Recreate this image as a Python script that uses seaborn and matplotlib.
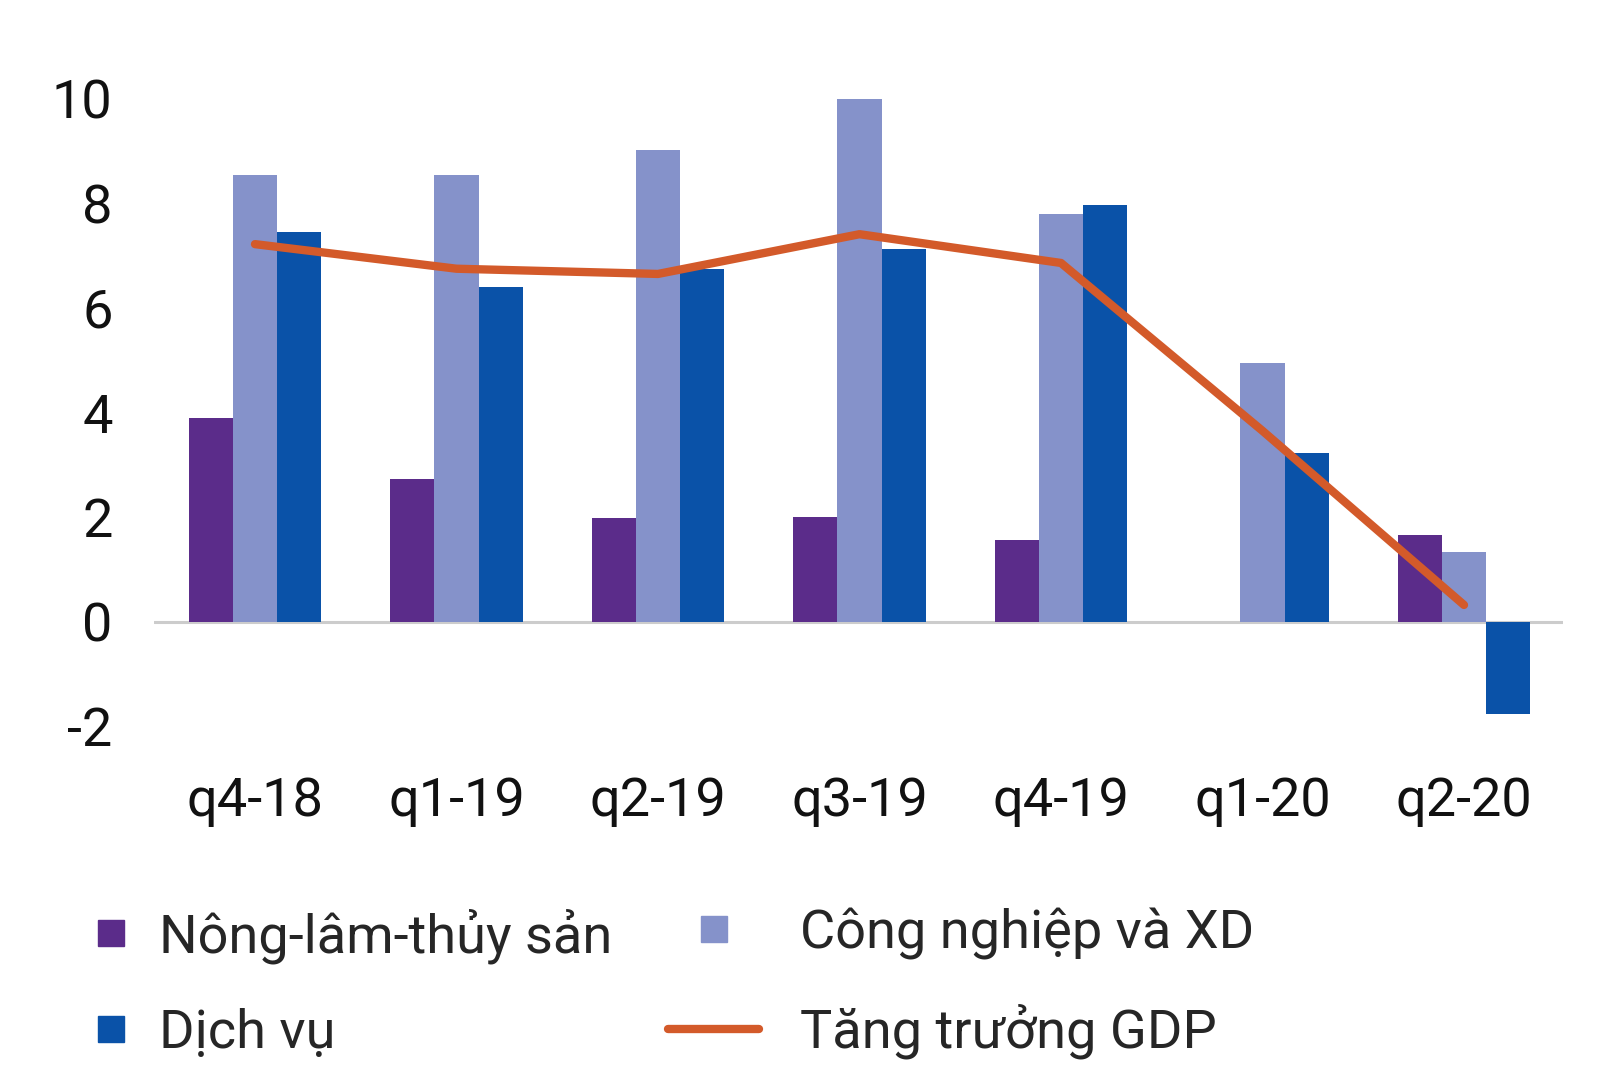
import matplotlib
matplotlib.use("Agg")
import matplotlib.pyplot as plt
from matplotlib.lines import Line2D
import numpy as np
import pandas as pd
import seaborn as sns

# quarters on the x axis
quarters = ["q4-18", "q1-19", "q2-19", "q3-19", "q4-19", "q1-20", "q2-20"]

# growth by sector (%)
nong_lam = [3.9, 2.72, 1.98, 2.0, 1.57, 0.0, 1.66]
cong_nghiep = [8.55, 8.55, 9.02, 10.0, 7.8, 4.94, 1.33]
dich_vu = [7.46, 6.4, 6.74, 7.12, 7.97, 3.22, -1.76]
gdp = [7.22, 6.75, 6.65, 7.41, 6.86, 3.65, 0.32]

sectors = ["Nông-lâm-thủy sản", "Công nghiệp và XD", "Dịch vụ"]
line_label = "Tăng trưởng GDP"
colors = ["#5B2C8A", "#8592CA", "#0A52A8"]
line_color = "#D35A2A"

# long table for seaborn
bars_df = pd.DataFrame({
    "quarter": quarters * 3,
    "sector": np.repeat(sectors, len(quarters)),
    "value": nong_lam + cong_nghiep + dich_vu,
})
line_df = pd.DataFrame({"pos": np.arange(len(quarters)), "gdp": gdp})

sns.set_style("white")
plt.rcParams["font.family"] = ["Roboto", "DejaVu Sans"]
plt.rcParams["axes.unicode_minus"] = False

fig = plt.figure(figsize=(16, 10.84), dpi=100)
ax = fig.add_axes([0.0964, 0.3276, 0.8803, 0.5837])

sns.barplot(data=bars_df, x="quarter", y="value", hue="sector",
            order=quarters, hue_order=sectors, palette=colors,
            saturation=1, width=0.657, gap=0, linewidth=0,
            legend=False, ax=ax, zorder=2)
ax.axhline(0, color="#CCCCCC", lw=2.2, zorder=1)
sns.lineplot(data=line_df, x="pos", y="gdp", color=line_color, lw=6,
             solid_capstyle="round", ax=ax, zorder=3, legend=False)

ax.set_xlim(-0.5, 6.49)
ax.set_ylim(-2.05, 10.05)
ax.set_yticks([-2, 0, 2, 4, 6, 8, 10])
ax.set_xticks(range(len(quarters)))
ax.set_xticklabels(quarters)
ax.set_xlabel("")
ax.set_ylabel("")
ax.tick_params(axis="y", length=0, pad=30, labelsize=39, colors="#111111")
ax.tick_params(axis="x", length=0, pad=34, labelsize=39, colors="#111111")
for s in ax.spines.values():
    s.set_visible(False)

# legend: two columns built separately so the squares sit like the original
h_nong = Line2D([], [], marker="s", ls="none", color=colors[0], markersize=19)
h_cong = Line2D([], [], marker="s", ls="none", color=colors[1], markersize=19)
h_dich = Line2D([], [], marker="s", ls="none", color=colors[2], markersize=19)
h_gdp = Line2D([], [], color=line_color, lw=6)

leg1 = fig.legend([h_nong, h_dich], [sectors[0], sectors[2]],
                  loc="center left", bbox_to_anchor=(0.0525, 0.0927),
                  frameon=False, fontsize=39, handlelength=1.0,
                  handletextpad=0.39, labelspacing=0.82, borderpad=0,
                  borderaxespad=0)
leg2 = fig.legend([h_cong, h_gdp], [sectors[1], line_label],
                  loc="center left", bbox_to_anchor=(0.4175, 0.0927),
                  frameon=False, fontsize=39, handlelength=1.68,
                  handletextpad=0.75, labelspacing=0.82, borderpad=0,
                  borderaxespad=0)

fig.savefig("out.png", dpi=100, facecolor="white")
plt.close(fig)
